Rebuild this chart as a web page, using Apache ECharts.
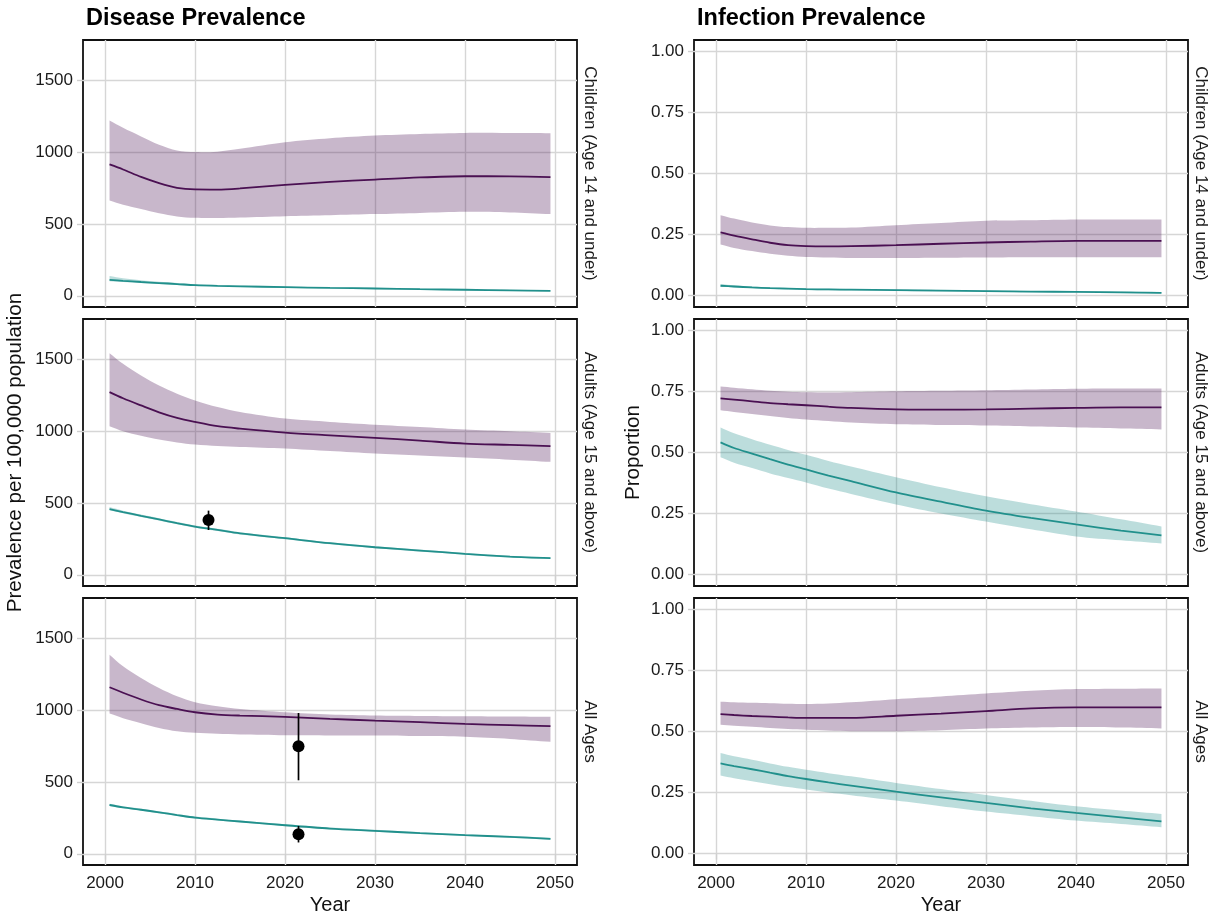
<!DOCTYPE html>
<html>
<head>
<meta charset="utf-8">
<title>Disease and Infection Prevalence</title>
<script src="https://cdn.jsdelivr.net/npm/echarts@6.0.0/dist/echarts.min.js"></script>
<style>
    html, body { margin: 0; padding: 0; background: #fff; }
    #chart { width: 1225px; height: 924px; }
</style>
</head>
<body>
<div id="chart"></div>
<script>
/*********************** data *******************************/
var years = [2000.5, 2002, 2004, 2006, 2008, 2010, 2012.5, 2015, 2020, 2025, 2030, 2035, 2040, 2045, 2049.5];
var xTicks = [2000, 2010, 2020, 2030, 2040, 2050];
var diseaseTicks = [0, 500, 1000, 1500];
var infectionTicks = [0, 0.25, 0.5, 0.75, 1];
var rowNames = ['Children (Age 14 and under)', 'Adults (Age 15 and above)', 'All Ages'];
var colTitles = ['Disease Prevalence', 'Infection Prevalence'];

// disease prevalence per 100,000 - children
var childDisPurpleMid = [915, 880, 828, 785, 752, 741, 740, 748, 773, 793, 810, 825, 833, 832, 827];
var childDisPurpleLo  = [664, 635, 605, 575, 553, 543, 542, 546, 555, 562, 569, 577, 585, 580, 569];
var childDisPurpleHi  = [1221, 1170, 1110, 1052, 1012, 1001, 1004, 1024, 1070, 1098, 1117, 1128, 1135, 1134, 1133];
var childDisTealMid = [111, 104, 96, 89, 82, 74, 69, 66, 60, 55, 51, 46, 42, 38, 34];
var childDisTealLo  = [102, 96, 89, 83, 76, 70, 65, 62, 56, 52, 47, 43, 39, 35, 31];
var childDisTealHi  = [138, 122, 108, 98, 90, 80, 75, 71, 65, 59, 55, 50, 45, 41, 37];

// disease prevalence per 100,000 - adults
var adultDisPurpleMid = [1273, 1230, 1180, 1132, 1093, 1065, 1035, 1018, 991, 972, 954, 935, 914, 905, 896];
var adultDisPurpleLo  = [1035, 1000, 968, 942, 922, 907, 897, 891, 880, 862, 845, 831, 817, 802, 787];
var adultDisPurpleHi  = [1544, 1470, 1389, 1319, 1262, 1215, 1169, 1134, 1088, 1065, 1046, 1030, 1012, 1000, 988];
var adultDisTealMid = [458, 437, 411, 386, 360, 336, 313, 289, 255, 220, 192, 169, 146, 127, 116];
var adultDisTealLo  = [449, 429, 403, 378, 352, 328, 305, 281, 248, 213, 185, 162, 140, 121, 110];
var adultDisTealHi  = [472, 447, 420, 394, 368, 344, 321, 297, 262, 227, 199, 176, 152, 133, 122];
// observed: year, estimate, low, high
var adultDisObs = [[2011.5, 382, 312, 447]];

// disease prevalence per 100,000 - all ages
var allDisPurpleMid = [1160, 1122, 1075, 1035, 1009, 986, 970, 963, 954, 940, 928, 917, 905, 896, 889];
var allDisPurpleLo  = [977, 945, 910, 877, 854, 843, 836, 831, 826, 825, 824, 820, 815, 800, 780];
var allDisPurpleHi  = [1387, 1306, 1225, 1155, 1097, 1056, 1028, 1009, 986, 970, 963, 960, 958, 956, 954];
var allDisTealMid = [340, 324, 307, 289, 270, 252, 238, 225, 199, 176, 160, 144, 130, 118, 104];
var allDisTealLo  = [333, 317, 300, 282, 263, 246, 232, 219, 193, 170, 154, 138, 124, 112, 98];
var allDisTealHi  = [348, 331, 314, 296, 277, 259, 245, 232, 206, 183, 167, 151, 137, 125, 111];
var allDisObs = [[2021.5, 750, 512, 981], [2021.5, 137, 79, 194]];

// infection prevalence (proportion) - children
var childInfPurpleMid = [0.258, 0.245, 0.230, 0.216, 0.206, 0.202, 0.201, 0.202, 0.206, 0.212, 0.217, 0.221, 0.224, 0.224, 0.224];
var childInfPurpleLo  = [0.209, 0.195, 0.182, 0.171, 0.163, 0.158, 0.156, 0.154, 0.154, 0.155, 0.156, 0.157, 0.157, 0.157, 0.157];
var childInfPurpleHi  = [0.329, 0.315, 0.299, 0.287, 0.280, 0.277, 0.277, 0.278, 0.288, 0.297, 0.306, 0.308, 0.311, 0.311, 0.311];
var childInfTealMid = [0.040, 0.037, 0.033, 0.030, 0.028, 0.026, 0.025, 0.024, 0.022, 0.020, 0.018, 0.016, 0.015, 0.013, 0.011];
var childInfTealLo  = [0.035, 0.033, 0.030, 0.027, 0.025, 0.023, 0.022, 0.021, 0.019, 0.017, 0.015, 0.013, 0.012, 0.010, 0.008];
var childInfTealHi  = [0.047, 0.042, 0.037, 0.034, 0.031, 0.029, 0.028, 0.027, 0.025, 0.023, 0.021, 0.019, 0.018, 0.016, 0.014];

// infection prevalence (proportion) - adults
var adultInfPurpleMid = [0.721, 0.716, 0.709, 0.702, 0.697, 0.693, 0.687, 0.682, 0.676, 0.675, 0.676, 0.679, 0.682, 0.684, 0.684];
var adultInfPurpleLo  = [0.672, 0.665, 0.657, 0.649, 0.641, 0.635, 0.628, 0.622, 0.615, 0.612, 0.610, 0.606, 0.602, 0.598, 0.594];
var adultInfPurpleHi  = [0.770, 0.765, 0.758, 0.752, 0.748, 0.746, 0.745, 0.746, 0.750, 0.752, 0.754, 0.757, 0.760, 0.761, 0.762];
var adultInfTealMid = [0.541, 0.518, 0.495, 0.472, 0.450, 0.430, 0.405, 0.382, 0.336, 0.298, 0.262, 0.232, 0.205, 0.180, 0.160];
var adultInfTealLo  = [0.480, 0.458, 0.436, 0.414, 0.395, 0.377, 0.352, 0.330, 0.287, 0.250, 0.217, 0.185, 0.156, 0.140, 0.127];
var adultInfTealHi  = [0.602, 0.578, 0.554, 0.531, 0.510, 0.490, 0.465, 0.442, 0.398, 0.357, 0.320, 0.288, 0.258, 0.226, 0.197];

// infection prevalence (proportion) - all ages
var allInfPurpleMid = [0.571, 0.567, 0.563, 0.560, 0.557, 0.555, 0.555, 0.555, 0.564, 0.573, 0.583, 0.594, 0.598, 0.598, 0.598];
var allInfPurpleLo  = [0.527, 0.523, 0.519, 0.514, 0.510, 0.507, 0.504, 0.501, 0.501, 0.505, 0.512, 0.516, 0.518, 0.516, 0.512];
var allInfPurpleHi  = [0.621, 0.619, 0.617, 0.615, 0.613, 0.612, 0.614, 0.619, 0.632, 0.643, 0.655, 0.666, 0.673, 0.675, 0.676];
var allInfTealMid = [0.369, 0.358, 0.345, 0.331, 0.317, 0.305, 0.291, 0.278, 0.253, 0.230, 0.207, 0.185, 0.166, 0.148, 0.132];
var allInfTealLo  = [0.319, 0.308, 0.296, 0.284, 0.272, 0.262, 0.250, 0.239, 0.217, 0.194, 0.172, 0.153, 0.135, 0.121, 0.108];
var allInfTealHi  = [0.411, 0.398, 0.384, 0.369, 0.355, 0.343, 0.329, 0.316, 0.289, 0.264, 0.240, 0.216, 0.193, 0.176, 0.162];

/*********************** facet chart *******************************/
var FONT = "'Liberation Sans', Arial, Helvetica, sans-serif";
var PURPLE = '#4a1052';
var TEAL = '#21908c';

function FacetCharts(params) {
    this.domId = params.domId;
    this.panels = params.panels;
    this.chartsObj = {};
    this.option = {};
}

FacetCharts.prototype.initChart = function () {
    var thisProxy = this;
    thisProxy.chartsObj = echarts.init(document.getElementById(thisProxy.domId), null, {renderer: 'canvas'});
};

// pair x values with y values
function pairs(ys) {
    var out = [];
    for (var i = 0; i < years.length; i++) {
        out.push([years[i], ys[i]]);
    }
    return out;
}

// ribbon between lo and hi, drawn once as a smooth polygon through the axis scale
function ribbonSeries(idx, lo, hi, color) {
    return {
        type: 'custom', xAxisIndex: idx, yAxisIndex: idx, z: 2, silent: true,
        data: pairs(hi),
        renderItem: function (params, api) {
            if (params.dataIndex !== 0) {
                return null;
            }
            var n = years.length - 1;
            var pts = [];
            var k, c;
            c = api.coord([years[0], hi[0]]);
            pts.push(c, c.slice());  // doubled corners keep the ends square
            for (k = 1; k <= n; k++) {
                pts.push(api.coord([years[k], hi[k]]));
            }
            pts.push(pts[pts.length - 1].slice());
            c = api.coord([years[n], lo[n]]);
            pts.push(c, c.slice());
            for (k = n - 1; k >= 0; k--) {
                pts.push(api.coord([years[k], lo[k]]));
            }
            pts.push(pts[pts.length - 1].slice());
            return {
                type: 'polygon',
                shape: {points: pts, smooth: 0.3},
                style: {fill: color, opacity: 0.3}
            };
        }
    };
}

FacetCharts.prototype.getOption = function () {
    var thisProxy = this;
    var gridLeft = [83, 694];
    var gridTop = [40, 319, 598];
    var W = 494, H = 267;
    var grids = [], xAxes = [], yAxes = [], series = [], graphics = [];

    thisProxy.panels.forEach(function (p, i) {
        var isDisease = p.col === 0;
        var ticks = isDisease ? diseaseTicks : infectionTicks;
        grids.push({
            left: gridLeft[p.col], top: gridTop[p.row], width: W, height: H,
            show: true, borderColor: '#111', borderWidth: 1.8,
            outerBoundsMode: 'none', containLabel: false
        });
        xAxes.push({
            gridIndex: i, type: 'value', min: 1997.55, max: 2052.45,
            name: p.row === 2 ? 'Year' : '',
            nameLocation: 'middle', nameGap: 30,
            nameTextStyle: {fontSize: 20, color: '#111', fontFamily: FONT},
            axisLine: {show: false},
            axisTick: {show: true, length: 6, customValues: xTicks, lineStyle: {color: '#cfcfcf', width: 1.4}},
            axisLabel: {
                show: p.row === 2, customValues: xTicks, margin: 10, fontSize: 17, color: '#1a1a1a', fontFamily: FONT,
                formatter: function (v) { return String(v); }
            },
            splitLine: {show: true, lineStyle: {color: '#d6d6d6', width: 1.4}}
        });
        var yName = '';
        if (p.row === 1) {
            yName = isDisease ? 'Prevalence per 100,000 population' : 'Proportion';
        }
        yAxes.push({
            gridIndex: i, type: 'value',
            min: isDisease ? -78 : -0.047,
            max: isDisease ? 1782 : 1.046,
            name: yName, nameLocation: 'middle', nameGap: isDisease ? 57 : 50,
            nameTextStyle: {fontSize: 20.6, color: '#111', fontFamily: FONT},
            axisLine: {show: false},
            axisTick: {show: true, length: 6, customValues: ticks, lineStyle: {color: '#cfcfcf', width: 1.4}},
            axisLabel: {
                customValues: ticks, margin: 10, fontSize: 17, color: '#1a1a1a', fontFamily: FONT,
                formatter: function (v) { return isDisease ? String(v) : v.toFixed(2); }
            },
            splitLine: {show: true, lineStyle: {color: '#d6d6d6', width: 1.4}}
        });

        // ribbons first, then the central lines on top
        series.push(ribbonSeries(i, p.purple[0], p.purple[2], PURPLE));
        series.push(ribbonSeries(i, p.teal[0], p.teal[2], TEAL));
        [[p.purple[1], PURPLE], [p.teal[1], TEAL]].forEach(function (s) {
            series.push({
                type: 'line', xAxisIndex: i, yAxisIndex: i,
                data: pairs(s[0]), symbol: 'none', smooth: 0.3, z: 4, silent: true,
                lineStyle: {color: s[1], width: 1.8}
            });
        });

        // observed points with error bars
        if (p.obs && p.obs.length) {
            series.push({
                type: 'custom', xAxisIndex: i, yAxisIndex: i, z: 5,
                data: p.obs,
                encode: {x: 0, y: [1, 2, 3]},
                renderItem: function (params, api) {
                    var a = api.coord([api.value(0), api.value(2)]);
                    var b = api.coord([api.value(0), api.value(3)]);
                    return {
                        type: 'line',
                        shape: {x1: a[0], y1: a[1], x2: b[0], y2: b[1]},
                        style: {stroke: '#000', lineWidth: 1.7}
                    };
                }
            });
            series.push({
                type: 'scatter', xAxisIndex: i, yAxisIndex: i, z: 6,
                data: p.obs.map(function (o) { return [o[0], o[1]]; }),
                symbolSize: 12, itemStyle: {color: '#000', opacity: 1}
            });
        }

        // facet strip labels on the right
        graphics.push({
            type: 'text',
            x: gridLeft[p.col] + W + 13,
            y: gridTop[p.row] + H / 2,
            rotation: -Math.PI / 2,
            style: {
                text: rowNames[p.row], fontSize: 17, fontFamily: FONT, fill: '#1a1a1a',
                textAlign: 'center', textVerticalAlign: 'middle'
            }
        });
    });

    thisProxy.option = {
        animation: false,
        backgroundColor: '#fff',
        textStyle: {fontFamily: FONT},
        title: [
            {text: colTitles[0], left: 81, top: 2, textStyle: {fontSize: 23.5, fontWeight: 'bold', color: '#000', fontFamily: FONT}},
            {text: colTitles[1], left: 692, top: 2, textStyle: {fontSize: 23.5, fontWeight: 'bold', color: '#000', fontFamily: FONT}}
        ],
        grid: grids,
        xAxis: xAxes,
        yAxis: yAxes,
        series: series,
        graphic: graphics
    };
};

FacetCharts.prototype.fireData = function () {
    var thisProxy = this;
    thisProxy.chartsObj.setOption(thisProxy.option);
};

var chart = new FacetCharts({
    domId: 'chart',
    panels: [
        {col: 0, row: 0, purple: [childDisPurpleLo, childDisPurpleMid, childDisPurpleHi], teal: [childDisTealLo, childDisTealMid, childDisTealHi]},
        {col: 0, row: 1, purple: [adultDisPurpleLo, adultDisPurpleMid, adultDisPurpleHi], teal: [adultDisTealLo, adultDisTealMid, adultDisTealHi], obs: adultDisObs},
        {col: 0, row: 2, purple: [allDisPurpleLo, allDisPurpleMid, allDisPurpleHi], teal: [allDisTealLo, allDisTealMid, allDisTealHi], obs: allDisObs},
        {col: 1, row: 0, purple: [childInfPurpleLo, childInfPurpleMid, childInfPurpleHi], teal: [childInfTealLo, childInfTealMid, childInfTealHi]},
        {col: 1, row: 1, purple: [adultInfPurpleLo, adultInfPurpleMid, adultInfPurpleHi], teal: [adultInfTealLo, adultInfTealMid, adultInfTealHi]},
        {col: 1, row: 2, purple: [allInfPurpleLo, allInfPurpleMid, allInfPurpleHi], teal: [allInfTealLo, allInfTealMid, allInfTealHi]}
    ]
});
chart.initChart();
chart.getOption();
chart.fireData();
</script>
</body>
</html>
